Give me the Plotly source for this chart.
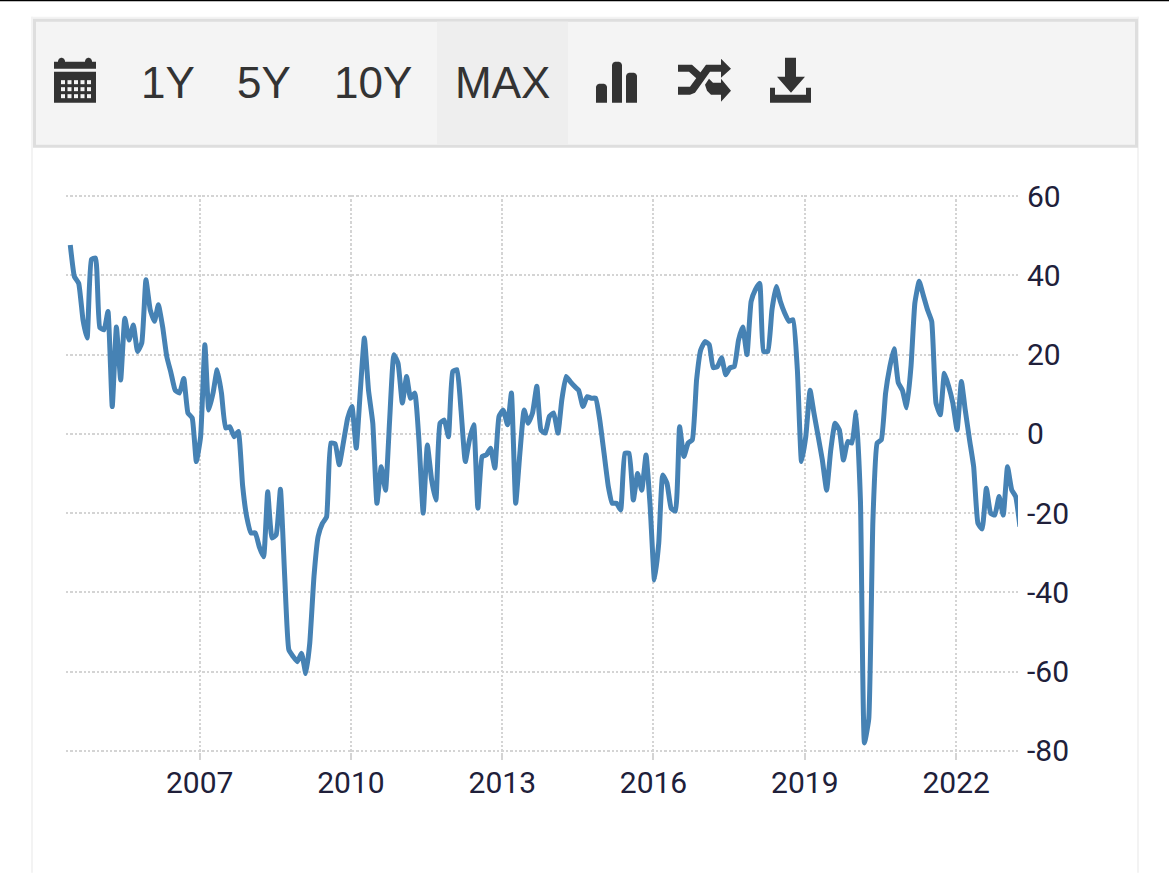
import pandas as pd
import plotly.graph_objects as go

W, H = 1169, 873
L, R, T, B = 66, 1018, 195.3, 752.2

values = [
47.7, 39.7, 38, 28.8, 24.2, 44, 44.4, 26.8, 26.3, 30.9,
6.9, 27, 13.6, 29.2, 23.7, 27.5, 20.8, 23, 38.9, 31.3,
28.4, 32.6, 27, 19.5, 15.3, 11, 10.3, 14, 5.3, 4,
-7, -0.7, 22.5, 6, 10.3, 16.2, 10.3, 1.5, 1.8, -0.7,
0.6, -13, -21, -25, -25, -28.5, -31, -14.6, -26.3, -25.5,
-14, -36, -54.5, -56.2, -57.5, -55.4, -60.5, -53, -36, -25.9,
-22.6, -21, -2.3, -2.5, -7.8, -2, 4, 6.9, -3.6, 10,
24.2, 11, 2.7, -17.5, -8.3, -14.2, 3.5, 20, 17.8, 7.8,
14.5, 9, 10.3, -1.5, -20, -2.8, -11.6, -16.7, 2.7, 3.5,
-0.7, 15.7, 16.2, 6, -7, -1.5, 2.3, -18.8, -5.7, -5.3,
-3.6, -8.6, 4.4, 6, 2.3, 10.3, -17.5, -5, 6, 2.7,
5.3, 12, 1, 0.2, 4.4, 5.3, 0.2, 8.6, 14.5, 13.2,
12, 11, 6.9, 9.4, 9, 9, 3.5, -4.9, -13.3, -17.5,
-17.5, -19.2, -4.9, -4.9, -16.7, -10, -14.2, -5.3, -18.4, -36.9,
-27.6, -10.4, -12.5, -18.8, -19.5, 1.8, -5.7, -2.3, -1.5, 13.6,
21.2, 23.3, 22.5, 16.7, 17, 19.2, 14.9, 16.7, 17, 23.7,
27, 20, 33.4, 36.4, 38, 20.8, 20.8, 31.3, 37.2, 33.4,
30.5, 28.4, 28.8, 16.2, -7, -0.7, 11, 5.3, -0.7, -6.6,
-14.2, -4, 2.7, 1, -6.6, -1.9, -2.3, 5.5, -17, -78,
-72, -22, -2.3, -1.5, 10.3, 17, 21.5, 12.9, 11, 6.6,
17, 33, 38.5, 35, 31.3, 28.4, 7.8, 4.8, 15.3, 12,
7.8, 1, 13.2, 6, -1.5, -8.3, -22.6, -24, -13.7, -20,
-20.5, -15.8, -20.5, -8.3, -14.2, -15.8, -23.4,
]
dates = pd.date_range("2004-06-08", periods=len(values), freq=pd.DateOffset(months=1))

x_ticks = ["2007-01-01", "2010-01-01", "2013-01-01", "2016-01-01", "2019-01-01", "2022-01-01"]
x_labels = ["2007", "2010", "2013", "2016", "2019", "2022"]
y_ticks = [60, 40, 20, 0, -20, -40, -60, -80]
y_labels = ["60", "40", "20", "0", "-20", "-40", "-60", "-80"]
buttons = [("1Y", 168), ("5Y", 264), ("10Y", 373), ("MAX", 502)]

DARK = "#333333"
GRID = "#d4d4d4"


def px(x):
    return (x - L) / (R - L)


def py(y):
    return (B - y) / (B - T)


def rect(x0, y0, x1, y1, fill):
    return dict(type="rect", xref="paper", yref="paper", x0=px(x0), x1=px(x1),
                y0=py(y0), y1=py(y1), fillcolor=fill, line_width=0, layer="below")


def poly(points, fill=DARK):
    d = "M " + " L ".join(f"{px(a):.5f},{py(b):.5f}" for a, b in points) + " Z"
    return dict(type="path", xref="paper", yref="paper", path=d, fillcolor=fill,
                line_width=0, layer="below")


def round_bar(x0, y0, x1, y1):
    c = 3
    return poly([(x0, y1), (x0, y0 + c), (x0 + 1, y0 + 1), (x0 + c, y0), (x1 - c, y0),
                 (x1 - 1, y0 + 1), (x1, y0 + c), (x1, y1)])


shapes = [
    rect(0, 0, W, 1.5, "#000000"),
    rect(31, 17, 33, H, "#f3f3f3"),
    rect(1137, 17, 1139, H, "#f3f3f3"),
    rect(31, 17, 1139, 19, "#f3f3f3"),
    rect(33, 19, 1138, 148, "#dedede"),
    rect(36, 22, 1135, 145, "#f4f4f4"),
    rect(437, 22, 568, 145, "#eeeeee"),
    # calendar
    rect(54, 62, 96, 69, DARK),
    round_bar(58, 58, 65, 63),
    round_bar(85, 58, 92, 63),
    rect(54, 72, 96, 103, DARK),
    # bars
    round_bar(596, 84, 607, 103),
    round_bar(612, 62, 622, 103),
    round_bar(626, 73, 637, 103),
    # shuffle
    poly([(678, 87), (690, 87), (706, 65), (721, 65), (721, 59), (731, 69), (721, 78),
          (721, 72), (710, 72), (695, 93), (690, 95), (678, 95)]),
    poly([(678, 65), (692, 65), (702, 74), (698, 80), (689, 72), (678, 72)]),
    poly([(705, 85), (709, 79), (713, 83), (721, 83), (721, 79), (731, 91), (721, 102),
          (721, 95), (711, 95), (707, 91)]),
    # download
    poly([(785, 58), (796, 58), (796, 77), (805, 77), (791, 93), (777, 77), (785, 77)]),
    poly([(770, 88), (775, 88), (775, 95), (806, 95), (806, 88), (811, 88), (811, 103), (770, 103)]),
]
for r in range(3):
    for c in range(5):
        x0 = 61 + c * 6.5
        y0 = 80.5 + r * 7
        shapes.append(rect(x0, y0, x0 + 4, y0 + 4, "#f4f4f4"))

annotations = [
    dict(text=t, x=px(cx), y=py(82.5), xref="paper", yref="paper", xanchor="center",
         yanchor="middle", showarrow=False,
         font=dict(family="Liberation Sans", size=44, color=DARK))
    for t, cx in buttons
]

fig = go.Figure(go.Scatter(
    x=dates, y=values, mode="lines", cliponaxis=False,
    line=dict(color="#4682b4", width=5, shape="spline", smoothing=0.4),
    hoverinfo="skip",
))
fig.update_layout(
    width=W, height=H, autosize=False, showlegend=False,
    margin=dict(l=L, r=W - R, t=T, b=H - B, pad=0),
    paper_bgcolor="#ffffff", plot_bgcolor="#ffffff",
    shapes=shapes, annotations=annotations,
    font=dict(family="Roboto, sans-serif", size=30, color="#20203a"),
)
fig.update_xaxes(
    type="date", range=["2004-05-08", "2023-03-25"],
    tickmode="array", tickvals=x_ticks, ticktext=x_labels,
    showgrid=True, gridcolor=GRID, gridwidth=2.3, griddash="2.3px,2.1px",
    ticks="outside", ticklen=7, tickwidth=2, tickcolor=GRID,
    ticklabelstandoff=-3,
    showline=False, zeroline=False,
)
fig.update_yaxes(
    side="right", range=[-80.3, 60.3],
    tickmode="array", tickvals=y_ticks, ticktext=y_labels,
    showgrid=True, gridcolor=GRID, gridwidth=2.3, griddash="2.3px,2.1px",
    ticks="", ticklabelstandoff=8,
    showline=False, zeroline=False,
)
fig.write_html(
    "out.html",
    config={"displayModeBar": False},
    post_script="document.body.style.margin='0';document.body.style.overflow='hidden';",
)
